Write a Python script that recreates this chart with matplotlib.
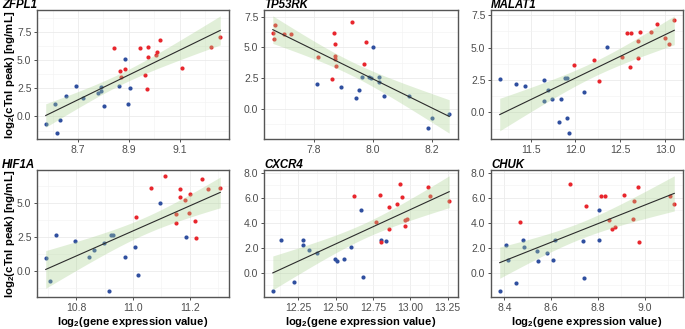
import numpy as np
import matplotlib.pyplot as plt
from matplotlib.ticker import MultipleLocator, FormatStrFormatter

plt.rcParams['font.family'] = ['Liberation Sans', 'DejaVu Sans']
plt.rcParams['mathtext.fontset'] = 'custom'
plt.rcParams['mathtext.bf'] = 'Liberation Sans:bold'

genes = ['ZFPL1', 'TP53RK', 'MALAT1', 'HIF1A', 'CXCR4', 'CHUK']

# ZFPL1
zfpl1_blue_x = [8.573, 8.618, 8.629, 8.608, 8.653, 8.691, 8.719, 8.780, 8.792, 8.792, 8.802, 8.860, 8.903, 8.886, 8.897]
zfpl1_blue_y = [-0.68, -1.48, -0.33, 1.10, 1.81, 2.67, 1.63, 2.08, 2.28, 2.61, 0.95, 2.67, 2.55, 5.07, 1.10]
zfpl1_red_x = [8.841, 8.867, 8.871, 8.886, 8.945, 8.963, 8.971, 8.975, 8.977, 9.008, 9.012, 9.021, 9.108, 9.223, 9.260]
zfpl1_red_y = [6.11, 4.06, 3.50, 4.24, 6.08, 3.71, 2.43, 5.28, 6.17, 5.49, 5.72, 6.82, 4.30, 6.17, 7.06]

# TP53RK
tp53rk_blue_x = [7.810, 7.890, 7.944, 7.952, 7.964, 7.988, 7.994, 8.001, 8.019, 8.021, 8.039, 8.123, 8.186, 8.199, 8.259]
tp53rk_blue_y = [2.03, 1.76, 0.89, 1.57, 2.60, 2.63, 2.49, 5.04, 2.60, 2.22, 1.03, 1.03, -1.52, -0.76, -0.38]
tp53rk_red_x = [7.660, 7.664, 7.667, 7.699, 7.722, 7.815, 7.862, 7.869, 7.871, 7.871, 7.875, 7.928, 7.976, 7.968, 7.870]
tp53rk_red_y = [6.15, 5.71, 6.80, 6.07, 6.07, 4.20, 2.41, 6.15, 5.25, 4.31, 3.49, 7.04, 5.47, 3.68, 4.03]

# MALAT1
malat1_blue_x = [11.154, 11.335, 11.441, 11.643, 11.643, 11.695, 11.739, 11.835, 11.820, 11.882, 11.901, 11.901, 11.930, 12.092, 12.349]
malat1_blue_y = [2.61, 2.20, 2.02, 2.48, 0.87, 1.74, 1.02, 1.02, -0.77, 2.64, 2.64, -0.41, -1.59, 1.56, 5.07]
malat1_red_x = [11.978, 12.209, 12.268, 12.515, 12.570, 12.618, 12.610, 12.698, 12.698, 12.720, 12.838, 12.908, 12.996, 13.048, 13.103]
malat1_red_y = [3.69, 4.02, 2.41, 4.28, 6.09, 6.09, 3.48, 4.22, 5.48, 6.20, 6.17, 6.84, 5.71, 5.27, 7.09]

# HIF1A
hif1a_blue_x = [10.692, 10.708, 10.729, 10.797, 10.843, 10.863, 10.899, 10.922, 10.931, 10.915, 10.971, 11.008, 11.016, 11.097, 11.186]
hif1a_blue_y = [0.92, -0.72, 2.61, 2.22, 1.04, 1.57, 2.03, 2.61, 2.61, -1.50, 1.04, 1.76, -0.34, 5.00, 2.51]
hif1a_red_x = [11.011, 11.065, 11.113, 11.151, 11.151, 11.165, 11.167, 11.185, 11.198, 11.201, 11.220, 11.224, 11.243, 11.266, 11.308]
hif1a_red_y = [3.98, 6.11, 7.00, 4.20, 3.50, 6.04, 5.43, 5.22, 4.25, 5.68, 3.65, 2.39, 6.74, 6.04, 6.08]

# CXCR4
cxcr4_blue_x = [12.078, 12.134, 12.221, 12.281, 12.281, 12.324, 12.375, 12.496, 12.509, 12.558, 12.600, 12.670, 12.683, 12.804, 12.835]
cxcr4_blue_y = [-1.47, 2.64, -0.72, 2.64, 2.24, 1.81, 1.60, 1.07, 0.93, 1.07, 2.05, 5.04, -0.32, 2.64, 2.53]
cxcr4_red_x = [12.621, 12.770, 12.799, 12.804, 12.857, 12.857, 12.913, 12.929, 12.944, 12.962, 12.975, 12.966, 13.118, 13.134, 13.261]
cxcr4_red_y = [6.11, 4.05, 6.19, 2.43, 5.28, 3.52, 5.49, 7.07, 6.08, 4.21, 4.29, 3.71, 6.83, 6.16, 5.71]

# CHUK
chuk_blue_x = [8.380, 8.407, 8.417, 8.451, 8.480, 8.484, 8.538, 8.544, 8.582, 8.610, 8.615, 8.738, 8.742, 8.803, 8.806]
chuk_blue_y = [-1.47, 2.20, 1.05, -0.78, 2.63, 2.04, 1.77, 0.91, 1.56, 1.05, 2.63, 2.52, -0.38, 2.63, 5.05]
chuk_red_x = [8.468, 8.679, 8.749, 8.814, 8.831, 8.848, 8.862, 8.872, 8.911, 8.951, 8.953, 8.970, 8.974, 9.108, 9.127]
chuk_red_y = [4.05, 7.12, 5.29, 6.09, 6.09, 4.22, 3.49, 3.68, 6.20, 4.30, 5.72, 6.85, 2.44, 6.15, 5.50]

data = [
    (zfpl1_blue_x, zfpl1_blue_y, zfpl1_red_x, zfpl1_red_y),
    (tp53rk_blue_x, tp53rk_blue_y, tp53rk_red_x, tp53rk_red_y),
    (malat1_blue_x, malat1_blue_y, malat1_red_x, malat1_red_y),
    (hif1a_blue_x, hif1a_blue_y, hif1a_red_x, hif1a_red_y),
    (cxcr4_blue_x, cxcr4_blue_y, cxcr4_red_x, cxcr4_red_y),
    (chuk_blue_x, chuk_blue_y, chuk_red_x, chuk_red_y),
]

# tick spacing: (x major, x offset, y major, x format)
ticks = [
    (0.2, 0.1, 2.5, '%.1f'),
    (0.2, 0.0, 2.5, '%.1f'),
    (0.5, 0.0, 2.5, '%.1f'),
    (0.2, 0.0, 2.5, '%.1f'),
    (0.25, 0.0, 2.0, '%.2f'),
    (0.2, 0.0, 2.0, '%.1f'),
]

W, H = 685, 329
# panel boxes in pixels: left, right, top, bottom
boxes = [
    (37, 229, 10, 139), (264, 458, 10, 139), (491, 683, 10, 139),
    (37, 229, 170, 297), (264, 458, 170, 297), (491, 683, 170, 297),
]

fig = plt.figure(figsize=(W / 100, H / 100), dpi=100)

blue = '#2f4f9f'
red = '#e8262d'

for i, (gene, (bx, by, rx, ry), tk, box) in enumerate(zip(genes, data, ticks, boxes)):
    l, r, t, b = box
    ax = fig.add_axes([l / W, 1 - b / H, (r - l) / W, (b - t) / H])

    ax.scatter(bx, by, s=9, color=blue, linewidths=0, zorder=2)
    ax.scatter(rx, ry, s=9, color=red, linewidths=0, zorder=2)

    # linear fit with 95% CI
    x = np.array(bx + rx)
    y = np.array(by + ry)
    n = len(x)
    slope, icpt = np.polyfit(x, y, 1)
    resid = y - (slope * x + icpt)
    s = np.sqrt(np.sum(resid ** 2) / (n - 2))
    sxx = np.sum((x - x.mean()) ** 2)
    xs = np.linspace(x.min(), x.max(), 100)
    ys = slope * xs + icpt
    se = s * np.sqrt(1 / n + (xs - x.mean()) ** 2 / sxx)
    tval = 2.048
    ax.fill_between(xs, ys - tval * se, ys + tval * se, color='#aad291',
                    alpha=0.35, linewidth=0, zorder=3)
    ax.plot(xs, ys, color='#2b2b2b', lw=0.8, zorder=4)

    xb, xo, yb, xf = tk
    ax.xaxis.set_major_locator(MultipleLocator(xb, xo))
    ax.xaxis.set_minor_locator(MultipleLocator(xb / 2))
    ax.yaxis.set_major_locator(MultipleLocator(yb))
    ax.yaxis.set_minor_locator(MultipleLocator(yb / 2))
    ax.xaxis.set_major_formatter(FormatStrFormatter(xf))
    ax.yaxis.set_major_formatter(FormatStrFormatter('%.1f'))

    ax.grid(True, which='major', color='#ebebeb', lw=0.6)
    ax.grid(True, which='minor', color='#f2f2f2', lw=0.4)
    ax.set_axisbelow(True)
    ax.tick_params(which='major', length=2.5, width=0.6, color='#333333',
                   labelcolor='#4d4d4d', labelsize=7.5, pad=1.5)
    ax.tick_params(which='minor', length=0)
    for sp in ax.spines.values():
        sp.set_color('#555555')
        sp.set_linewidth(1.0)

    if i % 3 == 0:
        ax.set_ylabel(r'log$_{\mathbf{2}}$(cTnI peak) [ng/mL]', fontsize=8.2,
                      fontweight='bold')
        ax.yaxis.set_label_coords(-0.105, 0.5)
        tx = 2
    else:
        tx = l
    if i >= 3:
        ax.set_xlabel(r'log$_{\mathbf{2}}$(gene expression value)', fontsize=8.1,
                      fontweight='bold')
        ax.xaxis.set_label_coords(0.5, -0.14)

    fig.text(tx / W, 1 - (t - 1.5) / H, gene, fontsize=8.3, fontweight='bold',
             fontstyle='italic', ha='left', va='baseline')

fig.savefig('out.png', dpi=100)
